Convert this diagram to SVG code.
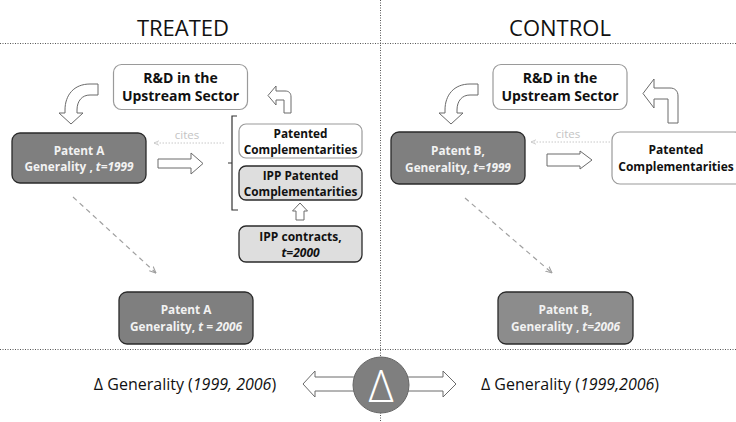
<svg xmlns="http://www.w3.org/2000/svg" width="736" height="422" viewBox="0 0 736 422">
<style>
text{font-family:"Open Sans","Noto Sans","Liberation Sans",sans-serif;text-anchor:middle}
.title{font-size:22px;fill:#111}
.bt{font-size:12px;font-weight:bold;fill:#111}
.sm{font-size:11.8px}
.rd{font-size:14px}
.wt{font-size:11.8px;font-weight:bold;fill:#f2f2f2}
.it{font-style:italic}
.box-w{fill:#fff;stroke:#9a9a9a;stroke-width:1.2}
.box-g{fill:#7f7f7f;stroke:#2a2a2a;stroke-width:1.3}
.box-g2{fill:#8c8c8c;stroke:#2a2a2a;stroke-width:1.3}
.box-l{fill:#dedede;stroke:#2a2a2a;stroke-width:1.3}
.hol{fill:#fff;stroke:#6a6a6a;stroke-width:1}
.sep{stroke:#555;stroke-width:1;stroke-dasharray:1 1.5;fill:none}
.cite{stroke:#c8c8c8;stroke-width:1;stroke-dasharray:1.5 1.5;fill:none}
.ct{font-size:11.5px;fill:#c4c4c4}
.dash{stroke:#a0a0a0;stroke-width:1.2;stroke-dasharray:5 4;fill:none}
.big{font-size:16px;fill:#111}
</style>
<defs>
<marker id="ah" viewBox="0 0 10 10" refX="9" refY="5" markerWidth="6" markerHeight="6" orient="auto-start-reverse">
<path d="M0,1 L9,5 L0,9" fill="none" stroke="#a0a0a0" stroke-width="1.5"/>
</marker>
<marker id="ahc" viewBox="0 0 10 10" refX="9" refY="5" markerWidth="6" markerHeight="6" orient="auto-start-reverse">
<path d="M0,1 L9,5 L0,9" fill="none" stroke="#c8c8c8" stroke-width="1.5"/>
</marker>
<path id="curv" d="M98,84 L90,84 C74,84 65,95 65,110 L65,113 L59,113 L71,124 L83,113 L77,113 L77,110 C77,101 82,95 90,95 L98,95 Z"/>
</defs>
<rect width="736" height="422" fill="#fff"/>

<g id="separators">
<line class="sep" x1="0" y1="43.5" x2="736" y2="43.5"/>
<line class="sep" x1="0" y1="349.5" x2="736" y2="349.5"/>
<line class="sep" x1="380.5" y1="0" x2="380.5" y2="422"/>
</g>

<text class="title" x="183" y="36">TREATED</text>
<text class="title" x="560" y="36">CONTROL</text>

<g id="connectors">
<!-- treated -->
<use href="#curv" class="hol"/>
<path class="hol" d="M291,113 L291,97 C291,93 289,91 285,91 L276,91 L276,86 L268,95.5 L276,105 L276,100 L284,100 L284,113 Z"/>
<line class="cite" x1="224" y1="143" x2="154" y2="143" marker-end="url(#ahc)"/>
<text class="ct" x="187" y="139">cites</text>
<path class="hol" d="M158,159 L191,159 L191,153 L203,163.5 L191,174 L191,168 L158,168 Z"/>
<path d="M237,116 L232,116 L232,210 L238,210 M228,163 L232,163" fill="none" stroke="#333" stroke-width="1.2"/>
<path class="hol" d="M296,220 L296,211 L292.5,211 L300,203 L307.5,211 L304,211 L304,220 Z"/>
<line class="dash" x1="73" y1="197" x2="156" y2="273" marker-end="url(#ah)"/>
<!-- control -->
<use href="#curv" class="hol" transform="translate(380,0)"/>
<path class="hol" d="M678,123 L678,96 C678,91 675,88 670,88 L654,88 L654,79 L643,93.5 L654,108 L654,99 L668,99 L668,123 Z"/>
<line class="cite" x1="610" y1="142" x2="531" y2="142" marker-end="url(#ahc)"/>
<text class="ct" x="568" y="138">cites</text>
<path class="hol" d="M547,154 L580,154 L580,151 L592,160 L580,169 L580,166 L547,166 Z"/>
<line class="dash" x1="465" y1="198" x2="552" y2="273" marker-end="url(#ah)"/>
<!-- delta arrows -->
<path class="hol" d="M360,377 L315,377 L315,371 L303,384 L315,397 L315,391 L360,391 Z"/>
<path class="hol" d="M400,377 L443,377 L443,371 L456,384 L443,397 L443,391 L400,391 Z"/>
</g>

<g id="rd-treated">
<rect class="box-w" x="113.5" y="64.5" width="134" height="45" rx="8"/>
<text class="bt rd" x="180.5" y="83">R&amp;D in the</text>
<text class="bt rd" x="180.5" y="101">Upstream Sector</text>
</g>
<g id="patentA-1999">
<rect class="box-g" x="12" y="133" width="134" height="50" rx="8"/>
<text class="wt" x="79" y="155">Patent  A</text>
<text class="wt" x="79" y="171">Generality , <tspan class="it">t=1999</tspan></text>
</g>
<g id="pc-treated">
<rect class="box-w" x="239" y="124" width="123" height="34" rx="7"/>
<text class="bt sm" x="300.5" y="137.5">Patented</text>
<text class="bt sm" x="300.5" y="153.5">Complementarities</text>
</g>
<g id="ipp-pc">
<rect class="box-l" x="239" y="166" width="123" height="34" rx="7"/>
<text class="bt sm" x="300.5" y="179.5">IPP Patented</text>
<text class="bt sm" x="300.5" y="195.5">Complementarities</text>
</g>
<g id="ipp-contracts">
<rect class="box-l" x="239" y="226" width="123" height="36" rx="7"/>
<text class="bt" x="300.5" y="241">IPP contracts,</text>
<text class="bt it" x="300.5" y="257">t=2000</text>
</g>
<g id="patentA-2006">
<rect class="box-g" x="119" y="292" width="134" height="52" rx="8"/>
<text class="wt" x="186" y="314">Patent  A</text>
<text class="wt" x="186" y="331">Generality,  <tspan class="it">t = 2006</tspan></text>
</g>

<g id="rd-control">
<rect class="box-w" x="493" y="64.5" width="134" height="45" rx="8"/>
<text class="bt rd" x="560" y="83">R&amp;D in the</text>
<text class="bt rd" x="560" y="101">Upstream Sector</text>
</g>
<g id="patentB-1999">
<rect class="box-g" x="391" y="132" width="134" height="52" rx="8"/>
<text class="wt" x="458" y="155">Patent  B,</text>
<text class="wt" x="458" y="172">Generality,  <tspan class="it">t=1999</tspan></text>
</g>
<g id="pc-control">
<rect class="box-w" x="612" y="132" width="130" height="52" rx="8"/>
<text class="bt" x="676" y="154">Patented</text>
<text class="bt" x="676" y="171">Complementarities</text>
</g>
<g id="patentB-2006">
<rect class="box-g2" x="498" y="292" width="135" height="52" rx="8"/>
<text class="wt" x="565.5" y="314">Patent  B,</text>
<text class="wt" x="565.5" y="331">Generality , <tspan class="it">t=2006</tspan></text>
</g>

<g id="delta">
<circle cx="381" cy="385" r="28" fill="#7f7f7f" stroke="#666" stroke-width="1"/>
<text x="381" y="402" style="font-size:44px;font-weight:300;fill:#fff">Δ</text>
</g>
<g id="delta-left">
<text class="big" x="185" y="390">Δ Generality (<tspan class="it">1999, 2006</tspan>)</text>
</g>
<g id="delta-right">
<text class="big" x="570" y="390">Δ Generality (<tspan class="it">1999,2006</tspan>)</text>
</g>
</svg>
